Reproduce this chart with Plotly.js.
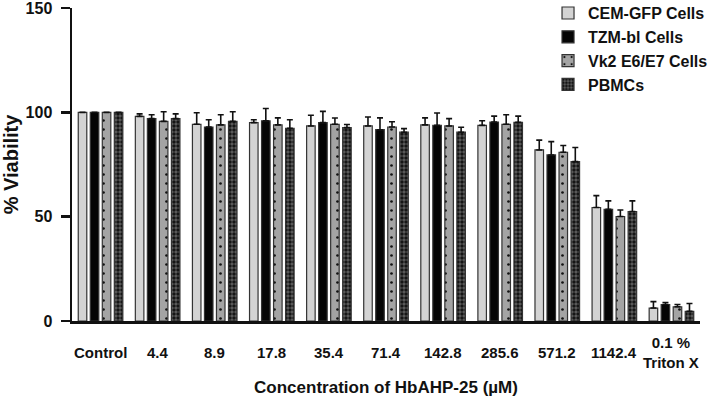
<!DOCTYPE html>
<html>
<head>
<meta charset="utf-8">
<script src="https://cdn.plot.ly/plotly-3.0.1.min.js"></script>
<style>html,body{margin:0;padding:0;background:#fff;}#chart{width:715px;height:404px;}</style>
</head>
<body>
<div id="chart"></div>
<script>
const categories = ["Control", "4.4", "8.9", "17.8", "35.4", "71.4", "142.8", "285.6", "571.2", "1142.4", "0.1 %<br>Triton X"];
const seriesNames = ["CEM-GFP Cells", "TZM-bl Cells", "Vk2 E6/E7 Cells", "PBMCs"];
const cemValues  = [100, 98.1, 94.3, 95.1, 93.5, 93.5, 94.0, 93.8, 82.0, 54.4, 6.2];
const cemErrors  = [0, 1.2, 5.5, 1.4, 5.1, 4.3, 3.4, 2.2, 4.7, 5.7, 3.1];
const tzmValues  = [100, 97.0, 93.0, 96.0, 95.1, 91.7, 93.8, 95.4, 79.6, 53.5, 7.9];
const tzmErrors  = [0, 1.9, 3.5, 5.9, 5.4, 5.7, 5.9, 2.8, 6.4, 4.1, 1.0];
const vk2Values  = [100, 95.7, 94.0, 94.0, 94.3, 93.0, 93.5, 94.3, 80.9, 50.1, 6.8];
const vk2Errors  = [0, 4.6, 4.9, 3.4, 3.0, 2.5, 3.5, 4.6, 3.2, 3.1, 1.1];
const pbmcValues = [100, 97.0, 95.7, 92.4, 92.7, 90.5, 90.5, 95.2, 76.4, 52.5, 4.6];
const pbmcErrors = [0, 2.3, 4.6, 4.1, 1.5, 1.7, 2.4, 3.0, 6.8, 5.1, 3.8];
const yTicks = [0, 50, 100, 150];

const FONT = "Arial, 'Liberation Sans', Helvetica, sans-serif";
const xIdx = categories.map((c, i) => i);
const zeros = categories.map(() => 0);

const styles = [
  {color: "#d3d3d3", pattern: {shape: ""}},
  {color: "#050505", pattern: {shape: ""}},
  {color: "#a4a4a4", pattern: {shape: ".", fgcolor: "#111111", bgcolor: "#a4a4a4", size: 9, solidity: 0.07, fillmode: "replace"}},
  {color: "#444444", pattern: {shape: ".", fgcolor: "#151515", bgcolor: "#5f5f5f", size: 4, solidity: 0.6, fillmode: "replace"}}
];
const vals = [cemValues, tzmValues, vk2Values, pbmcValues];
const errs = [cemErrors, tzmErrors, vk2Errors, pbmcErrors];

const traces = seriesNames.map((name, k) => ({
  type: "bar",
  name: name,
  legendgroup: "g" + k,
  x: xIdx,
  y: vals[k],
  marker: {
    color: styles[k].color,
    pattern: styles[k].pattern,
    line: {color: "#333333", width: 1.2}
  },
  error_y: {
    type: "data", symmetric: false, array: errs[k], arrayminus: zeros,
    color: "#111111", thickness: 1.6, width: 3
  }
}));

const annotations = categories.map((c, i) => ({
  text: c, x: i, xref: "x", y: -0.102, yref: "paper",
  yanchor: "middle", xanchor: "center", showarrow: false,
  font: {family: FONT, size: 15, color: "#111", weight: 700}
}));

const layout = {
  width: 715, height: 404,
  margin: {l: 72, r: 15, t: 8, b: 83, autoexpand: false},
  paper_bgcolor: "#ffffff", plot_bgcolor: "#ffffff",
  barmode: "group", bargap: 0.158, bargroupgap: 0.29,
  font: {family: FONT, color: "#111"},
  showlegend: true,
  legend: {
    x: 0.758, xanchor: "left", y: 1.038, yanchor: "top",
    font: {family: FONT, size: 16, color: "#111", weight: 700},
    bgcolor: "rgba(0,0,0,0)", traceorder: "normal", tracegroupgap: 7
  },
  xaxis: {
    range: [-0.5, 10.5], showgrid: false, zeroline: false, automargin: false,
    showline: true, linecolor: "#111", linewidth: 2.5,
    tickvals: xIdx, showticklabels: false, ticks: "",
    title: {text: "<b>Concentration of HbAHP-25 (µM)</b>", font: {family: FONT, size: 17, color: "#111"}, standoff: 59}
  },
  yaxis: {
    range: [0, 150.05], showgrid: false, zeroline: false, automargin: false,
    showline: true, linecolor: "#111", linewidth: 2.5,
    tickvals: yTicks, ticks: "outside", ticklen: 9, tickwidth: 2.5, tickcolor: "#111",
    ticklabelstandoff: 5, ticklabeloverflow: "allow",
    tickfont: {family: FONT, size: 16, color: "#111", weight: 700},
    title: {text: "<b>% Viability</b>", font: {family: FONT, size: 20, color: "#111"}, standoff: 10}
  },
  annotations: annotations
};

Plotly.newPlot("chart", traces, layout, {staticPlot: true, displayModeBar: false});
</script>
</body>
</html>
